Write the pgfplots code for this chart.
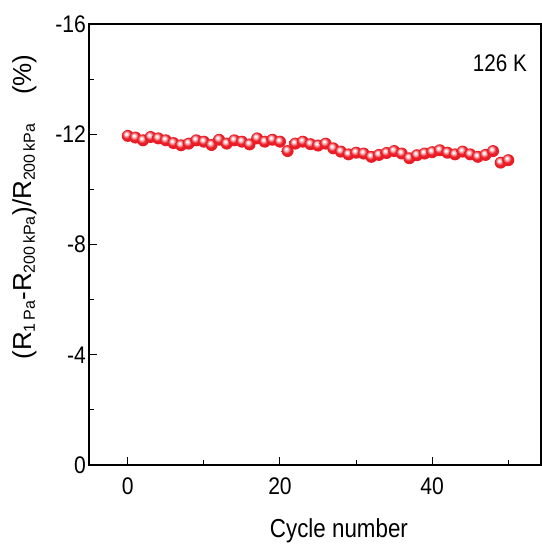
\documentclass[border=0pt]{standalone}
\usepackage{pgfplots}
\pgfplotsset{compat=1.18}
\usepackage{fontspec}
\setmainfont{Liberation Sans}
\definecolor{ballred}{RGB}{234,28,38}

% glossy red sphere used as the plot mark
\pgfdeclareradialshading{redsphere}{\pgfqpoint{-7bp}{9bp}}{%
  color(0bp)=(white); color(3bp)=(white);
  color(10bp)=(ballred!45!white); color(17bp)=(ballred);
  color(40bp)=(ballred); color(50bp)=(ballred!82!black);
  color(70bp)=(ballred!70!black)}
\pgfdeclareplotmark{redsphere}{%
  \pgfpathcircle{\pgfpointorigin}{\pgfplotmarksize}%
  \pgfshadepath{redsphere}{0}\pgfusepath{}}

\pgfplotstableread{
n   v
0   -11.94
1   -11.88
2   -11.78
3   -11.90
4   -11.85
5   -11.78
6   -11.68
7   -11.60
8   -11.66
9   -11.78
10  -11.73
11  -11.61
12  -11.80
13  -11.66
14  -11.78
15  -11.73
16  -11.63
17  -11.85
18  -11.73
19  -11.80
20  -11.73
21  -11.39
22  -11.66
23  -11.73
24  -11.64
25  -11.59
26  -11.66
27  -11.49
28  -11.37
29  -11.27
30  -11.33
31  -11.30
32  -11.18
33  -11.25
34  -11.32
35  -11.39
36  -11.30
37  -11.13
38  -11.24
39  -11.30
40  -11.35
41  -11.42
42  -11.33
43  -11.27
44  -11.37
45  -11.27
46  -11.18
47  -11.25
48  -11.39
49  -10.97
50  -11.06
}\cycledata

\newcommand{\sub}[1]{$_{\mbox{\fontsize{16}{18}\selectfont #1}}$}

\begin{document}
\begin{tikzpicture}
\begin{axis}[
  name=ax,
  scale only axis,
  width=452pt, height=441pt,
  xmin=-5.1, xmax=54.3,
  ymin=-16, ymax=0,
  y dir=reverse,
  xtick={0,20,40}, minor xtick={10,30,50},
  ytick={0,-4,-8,-12,-16}, minor ytick={-2,-6,-10,-14},
  tick align=inside,
  xtick pos=bottom, ytick pos=left,
  major tick length=8pt, minor tick length=5pt,
  axis line style={line width=1.1pt},
  every tick/.style={line width=1pt, black},
  every minor tick/.style={line width=1pt, black},
  tick label style={font=\fontsize{24}{26}\selectfont, xscale=0.88},
  /pgf/number format/assume math mode=true,
  xticklabel style={yshift=-9pt},
  yticklabel style={xshift=0pt},
  xlabel={Cycle number},
  xlabel style={font=\fontsize{26}{29}\selectfont, xscale=0.86,
    at={(axis description cs:0.553,-0.15)}, anchor=center},
  ylabel={(R\sub{1\,Pa}-R\sub{200\,kPa})/R\sub{200\,kPa}\hspace{1.1em}(\%)},
  ylabel style={font=\fontsize{26}{29}\selectfont,
    at={(axis description cs:-0.143,0.585)}, anchor=center, rotate=0},
]
\addplot[only marks, mark=redsphere, mark size=6pt] table[x=n, y=v] {\cycledata};
\node[font=\fontsize{24}{27}\selectfont, xscale=0.86] at (axis description cs:0.909,0.912) {126 K};
\end{axis}
\pgfresetboundingbox
\path ([shift={(-89pt,-84pt)}]ax.south west) rectangle ([shift={(1pt,24pt)}]ax.north east);
\end{tikzpicture}
\end{document}
